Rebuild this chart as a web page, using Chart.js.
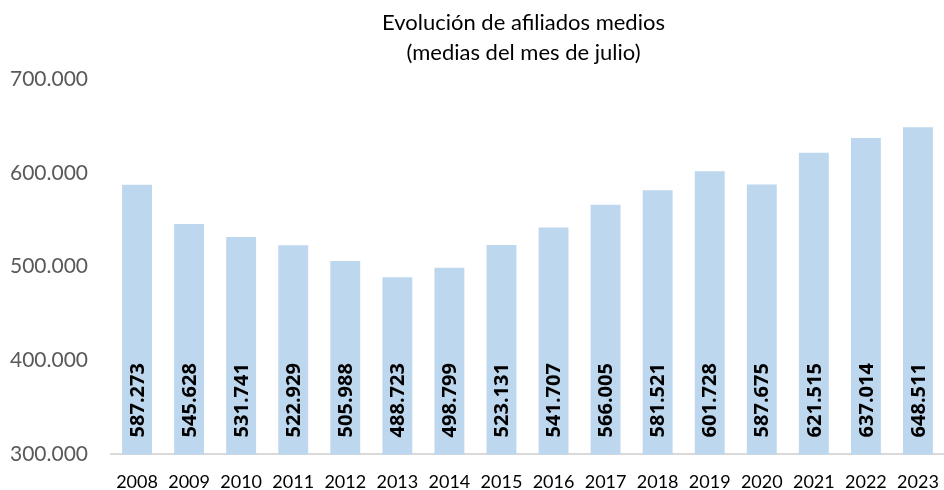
<!DOCTYPE html>
<html><head><meta charset="utf-8">
<script src="https://cdn.jsdelivr.net/npm/chart.js@4"></script>
<style>html,body{margin:0;padding:0;background:#fff;overflow:hidden}#wrap{width:944px;height:490px}</style>
</head><body><div id="wrap"><canvas id="c" width="944" height="490"></canvas></div>
<script>
const years = ['2008','2009','2010','2011','2012','2013','2014','2015','2016','2017','2018','2019','2020','2021','2022','2023'];
const afiliados = [587273,545628,531741,522929,505988,488723,498799,523131,541707,566005,581521,601728,587675,621515,637014,648511];
const titleLines = ['Evolución de afiliados medios','(medias del mes de julio)'];
const yMin = 300000, yMax = 700000, yStep = 100000;

function fmt(v){ return String(Math.round(v)).replace(/\B(?=(\d{3})+(?!\d))/g,'.'); }

const extras = {
  id:'extras',
  afterDatasetsDraw(chart){
    const ctx = chart.ctx;
    const meta = chart.getDatasetMeta(0);
    const base = chart.scales.y.getPixelForValue(yMin);
    ctx.save();
    ctx.font = 'bold 20px "Open Sans"';
    ctx.fillStyle = '#000';
    ctx.textAlign = 'left';
    ctx.textBaseline = 'middle';
    meta.data.forEach((bar,i)=>{
      ctx.save();
      ctx.translate(bar.x, base - 17);
      ctx.rotate(-Math.PI/2);
      ctx.fillText(fmt(afiliados[i]), 0, 1);
      ctx.restore();
    });
    ctx.restore();
  },
  afterDraw(chart){
    const ctx = chart.ctx, ca = chart.chartArea;
    const cx = (ca.left + ca.right) / 2 - 4;
    ctx.save();
    ctx.font = '22px Lato';
    ctx.fillStyle = '#000';
    ctx.textAlign = 'center';
    ctx.textBaseline = 'alphabetic';
    ctx.fillText(titleLines[0], cx, 30);
    ctx.fillText(titleLines[1], cx, 60);
    ctx.restore();
  }
};

new Chart(document.getElementById('c'), {
  type:'bar',
  data:{ labels: years, datasets:[{ data: afiliados, backgroundColor:'#BDD7EE', borderWidth:0, barPercentage:0.574, categoryPercentage:1 }]},
  options:{
    responsive:false, animation:false,
    layout:{ padding:{ left:0, right:-3, top:79, bottom:0 } },
    plugins:{ legend:{display:false}, tooltip:{enabled:false}, title:{display:false} },
    scales:{
      x:{
        grid:{ display:false, drawTicks:false },
        border:{ display:true, color:'#D9D9D9', width:2 },
        ticks:{ color:'#000', font:{family:'Lato', size:18, lineHeight:1}, padding:19, maxRotation:0, autoSkip:false },
        afterFit(s){ s.height = 35; s.paddingLeft = 0; s.paddingRight = 0; }
      },
      y:{
        min:yMin, max:yMax,
        grid:{ display:false, drawTicks:false },
        border:{ display:false },
        ticks:{ stepSize:yStep, color:'#595959', font:{family:'Lato', size:21}, padding:23, callback:(v)=>fmt(v) },
        afterFit(s){ s.width = 111; }
      }
    }
  },
  plugins:[extras]
});
</script></body></html>
